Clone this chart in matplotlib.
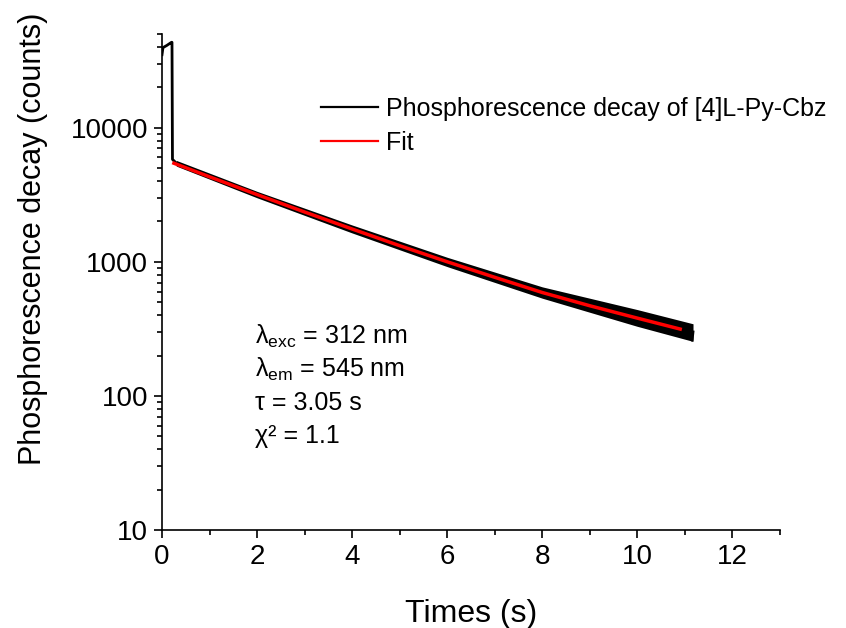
import matplotlib
matplotlib.use("Agg")
import matplotlib.pyplot as plt
from matplotlib.lines import Line2D
from matplotlib.ticker import FixedLocator, LogLocator, NullFormatter, FuncFormatter

plt.rcParams['font.family'] = ['Liberation Sans', 'DejaVu Sans']
plt.rcParams['mathtext.fontset'] = 'custom'
plt.rcParams['mathtext.rm'] = 'Liberation Sans'
plt.rcParams['mathtext.it'] = 'Liberation Sans:italic'

# dane
t_pomiar = [0, 0.02, 0.1, 0.2, 0.21, 0.22, 0.3, 1, 1.5, 2, 2.5, 3, 3.5, 4, 4.5, 5,
            5.5, 6, 6.5, 7, 7.5, 8, 8.5, 9, 9.5, 10, 10.5, 11, 11.1, 11.15, 11.17]
pomiar = [35000, 39500, 41000, 43300, 43300, 5800, 5450, 4350, 3700, 3200, 2720, 2370,
          2030, 1770, 1520, 1330, 1150, 1005, 870, 775, 670, 600, 525, 475, 425, 385,
          345, 315, 300, 260, 300]

# szum pomiaru (obwiednia)
t_szum = [0.3, 2, 4, 6, 8, 10, 11.17]
szum_gora = [5700, 3350, 1880, 1080, 650, 440, 345]
szum_dol = [5170, 3000, 1640, 920, 535, 330, 255]

t_fit = [0.25, 1, 2, 3, 4, 5, 6, 7, 8, 9, 10, 10.9]
fit = [5430, 4300, 3170, 2350, 1755, 1318, 1000, 766, 590, 470, 380, 315]

opis = ["λ$_{\\mathrm{exc}}$ = 312 nm", "λ$_{\\mathrm{em}}$ = 545 nm", "τ = 3.05 s", "χ² = 1.1"]

fig = plt.figure(figsize=(8.46, 6.28), dpi=100)
ax = fig.add_axes([0.1915, 0.156, 0.7305, 0.79])

ax.fill_between(t_szum, szum_dol, szum_gora, color='black', lw=0)
ax.plot(t_pomiar, pomiar, color='black', lw=2)
ax.plot(t_fit, fit, color='red', lw=2.5)

ax.set_yscale('log')
ax.set_xlim(0, 13)
ax.set_ylim(10, 50000)

ax.xaxis.set_major_locator(FixedLocator([0, 2, 4, 6, 8, 10, 12]))
ax.xaxis.set_minor_locator(FixedLocator([1, 3, 5, 7, 9, 11, 13]))
ax.yaxis.set_major_locator(FixedLocator([10, 100, 1000, 10000]))
ax.yaxis.set_minor_locator(LogLocator(subs=range(2, 10), numticks=20))
ax.yaxis.set_minor_formatter(NullFormatter())
ax.yaxis.set_major_formatter(FuncFormatter(lambda v, _: f'{v:g}'))

for s in ['top', 'right']:
    ax.spines[s].set_visible(False)
for s in ['left', 'bottom']:
    ax.spines[s].set_linewidth(1.2)

ax.tick_params(which='major', direction='out', length=6, width=1.2, labelsize=20, pad=4)
ax.tick_params(which='minor', direction='out', length=3.5, width=1.2)

ax.set_xlabel("Times (s)", fontsize=23, labelpad=21)
ax.set_ylabel("Phosphorescence decay (counts)", fontsize=22)
ax.yaxis.set_label_coords(-0.185, 0.587)

uchwyty = [Line2D([], [], color='black', lw=1.6), Line2D([], [], color='red', lw=1.6)]
ax.legend(uchwyty, ["Phosphorescence decay of [4]L-Py-Cbz", "Fit"], loc='upper left',
          bbox_to_anchor=(0.257, 0.873), frameon=False, fontsize=18, handlelength=2.3,
          handletextpad=0.3, labelspacing=0.4, borderpad=0, borderaxespad=0)

for i, linia in enumerate(opis):
    ax.text(0.150, 0.391 - i * 0.067, linia, transform=ax.transAxes, fontsize=18, va='center')

fig.savefig("out.png", dpi=100)
